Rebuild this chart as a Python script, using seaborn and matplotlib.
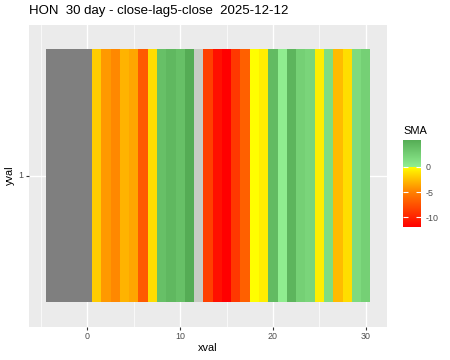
import numpy as np
import pandas as pd
import matplotlib
matplotlib.use("Agg")
import matplotlib.pyplot as plt
import matplotlib.colors as mcolors
from matplotlib.ticker import FixedLocator
import seaborn as sns

# ---------------- data ----------------
xval = list(range(-4, 31))
sma = [np.nan, np.nan, np.nan, np.nan, np.nan,
       -2.0, -4.0, -4.7, -3.0, -3.5, -7.05, -1.35, 3.7, 4.3, 3.7,
       5.3, 0.0, -8.45, -11.04, -11.9, -8.88, -6.73, -0.05, -0.67, 4.1,
       0.1, 4.6, 2.4, 2.0, -0.67, 1.4, -2.68, -1.35, 1.6, 2.4]
yval = [1]
x_major = [0, 10, 20, 30]
x_minor = [-5, 5, 15, 25]
legend_breaks = [0, -5, -10]
title = "HON  30 day - close-lag5-close  2025-12-12"

plt.rcParams['font.family'] = ['Liberation Sans', 'DejaVu Sans']

df = pd.DataFrame([sma], index=yval, columns=xval)
vmin = float(np.nanmin(sma))
vmax = float(np.nanmax(sma))

# ---------------- colour scale ----------------
def hex2rgb(h):
    return np.array(mcolors.to_rgb(h))

neg_nodes = [(vmin, "#FF0000"), (-5.0, "#FF8000"), (0.0, "#FFFF00")]
pos_nodes = [(0.0, "#90EE90"), (vmax, "#55AC55")]

def interp(v, nodes):
    for (a, ca), (b, cb) in zip(nodes[:-1], nodes[1:]):
        if a <= v <= b:
            t = 0 if b == a else (v - a) / (b - a)
            return (1 - t) * hex2rgb(ca) + t * hex2rgb(cb)
    return hex2rgb(nodes[-1][1]) if v > nodes[-1][0] else hex2rgb(nodes[0][1])

N = 2048
norm = mcolors.Normalize(vmin=vmin, vmax=vmax)
cols = []
for i in range(N):
    v = vmin + (i + 0.5) / N * (vmax - vmin)
    cols.append(interp(v, neg_nodes) if v < 0 else interp(v, pos_nodes))
idx0 = int(norm(0.0) * N)
for k in (idx0 - 1, idx0, idx0 + 1):
    cols[k] = hex2rgb("#C8CCC4")
cmap = mcolors.ListedColormap(cols)
cmap.set_bad("#7F7F7F")

# ---------------- figure ----------------
W, H = 450, 360
fig = plt.figure(figsize=(4.5, 3.6), dpi=100)
pl, pr, pt, pb = 29.3, 386.7, 24.5, 326.7
ax = fig.add_axes([pl / W, 1 - pb / H, (pr - pl) / W, (pb - pt) / H])
cax = fig.add_axes([403 / W, 1 - 227 / H, 17.5 / W, 87 / H])

sns.heatmap(df, cmap=cmap, vmin=vmin, vmax=vmax, ax=ax, cbar_ax=cax,
            linewidths=0)

ax.set_facecolor("#EBEBEB")
ax.set_axisbelow(True)
for s in ax.spines.values():
    s.set_visible(False)

def hx(x):
    return x - xval[0] + 0.5

ax.set_xlim(hx(-6.25), hx(32.25))
ax.set_ylim(1.097, -0.097)
ax.set_xticks([hx(x) for x in x_major], [str(x) for x in x_major], rotation=0)
ax.xaxis.set_minor_locator(FixedLocator([hx(x) for x in x_minor]))
ax.set_yticks([0.5], [str(y) for y in yval], rotation=0)
ax.grid(which="major", color="white", linewidth=1.0)
ax.grid(which="minor", axis="x", color="white", linewidth=0.5)
ax.tick_params(which="major", length=2.2, width=0.8, color="#333333",
               labelcolor="#4D4D4D", labelsize=6.4, pad=1.8)
ax.tick_params(which="minor", length=0)
ax.set_xlabel("")
ax.set_ylabel("")

cbar = ax.collections[0].colorbar
cbar.outline.set_visible(False)
cbar.set_ticks(legend_breaks)
cbar.set_ticklabels([str(b) for b in legend_breaks])
cbar.ax.tick_params(direction="in", color="white", length=3.5, width=0.8,
                    left=True, right=True, labelcolor="#4D4D4D",
                    labelsize=6.4, pad=3.5)

fig.text(pl / W, 1 - 11 / H, title, ha="left", va="center", size=9.5,
         color="black")
fig.text((pl + pr) / 2 / W, 1 - 348 / H, "xval", ha="center", va="center",
         size=7.9, color="black")
fig.text(10 / W, 1 - 175 / H, "yval", ha="center", va="center", size=7.9,
         rotation=90, color="black")
fig.text(403 / W, 1 - 131 / H, "SMA", ha="left", va="center", size=7.9,
         color="black")

fig.savefig("out.png", dpi=100)
